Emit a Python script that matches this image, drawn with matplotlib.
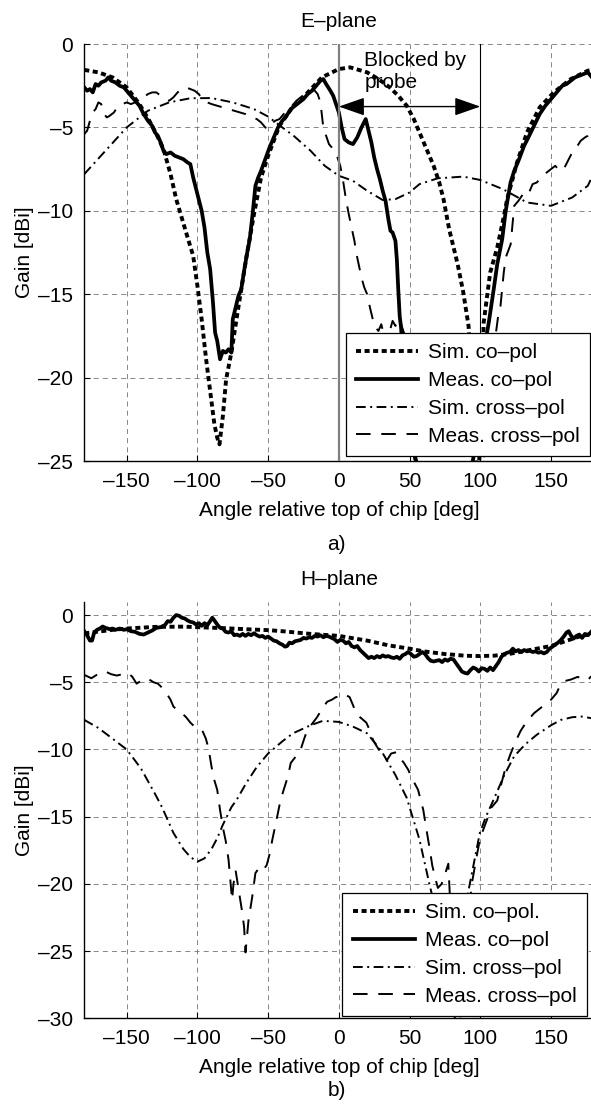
import matplotlib
matplotlib.use("Agg")
import matplotlib.pyplot as plt
import numpy as np

plt.rcParams['font.family'] = ['Liberation Sans', 'DejaVu Sans']

# ---------------- E-plane data ----------------
e_sim_co_ang = [-180, -170, -160, -150, -141, -134, -129, -124, -119, -115, -108, -103, -100, -97, -94, -91,
                -88, -86, -84.4, -82, -79.7, -76, -72, -69, -65, -60, -55, -50, -42, -32, -23, -12, 0, 8,
                20, 28, 36, 42, 48, 53, 57, 62, 67, 71, 74, 78, 84, 88, 91.7, 94, 96, 98, 100, 102.4,
                107, 112, 116, 119, 126, 133, 142, 152, 164, 176, 180]
e_sim_co_gain = [-1.55, -1.7, -2.0, -2.6, -3.6, -4.6, -5.4, -6.3, -7.8, -9.3, -11.3, -12.7, -14.5, -16.5, -18.8, -20.8,
                 -22.8, -23.6, -24.0, -22.3, -20.1, -18.5, -16.3, -14.7, -12.6, -10.2, -8.0, -6.7, -4.9, -3.7, -3.0, -2.0, -1.5, -1.4,
                 -1.7, -2.1, -2.6, -3.1, -3.7, -4.5, -5.3, -6.3, -7.3, -8.3, -9.3, -11.1, -13.2, -14.9, -16.9, -20.0, -24.0, -26.5, -24.0, -16.7,
                 -13.7, -12.2, -10.6, -9.3, -7.1, -5.3, -3.8, -2.9, -2.1, -1.6, -1.55]

e_meas_co_ang = [-180, -178, -176, -174, -172, -170, -168, -165, -163, -161, -158, -155, -152, -150, -147, -144,
                 -141, -138, -135, -132, -130, -128, -126, -124, -122, -119, -116, -113, -110, -107, -105, -103,
                 -100, -97, -95, -93, -91, -89, -87.5, -86, -84, -82, -80, -78, -76, -75, -73, -71, -69, -67,
                 -65, -63, -61, -59, -57, -55, -52, -49, -46, -43, -40, -37, -34, -31, -28, -25, -22, -19, -16,
                 -13, -11, -9, -6, -4, -2, 0, 2, 4, 7, 10, 13, 16, 19, 21, 23, 25, 27, 29, 31, 33, 35, 36.5,
                 38, 40, 41, 42, 43, 44, 45, 48, 52, 56, 62, 67, 72, 80, 90, 97, 101, 103, 106, 109.5, 112,
                 115.5, 118, 121.4, 124, 127, 131, 134, 138, 142, 146, 150, 152, 155, 158, 161, 164, 167, 170,
                 173, 176, 178, 180]
e_meas_co_gain = [-2.6, -2.8, -2.7, -2.9, -2.4, -2.5, -2.3, -2.2, -2.0, -2.2, -2.3, -2.5, -2.6, -2.8, -3.1, -3.4,
                  -3.7, -4.2, -4.6, -4.9, -5.3, -5.5, -5.9, -6.4, -6.6, -6.5, -6.7, -6.8, -6.9, -7.1, -7.2, -8.0,
                  -9.0, -10.0, -11.0, -12.5, -13.5, -15.5, -17.3, -17.8, -18.9, -18.4, -18.5, -18.3, -18.5, -16.5, -15.8, -15.1, -14.7, -13.6,
                  -12.6, -11.7, -10.2, -8.5, -8.0, -7.6, -6.9, -6.2, -5.6, -5.0, -4.6, -4.3, -3.9, -3.7, -3.5, -3.3, -3.0, -2.8, -2.5,
                  -2.2, -2.1, -2.4, -2.8, -3.1, -3.6, -4.1, -5.0, -5.7, -5.9, -6.0, -5.6, -5.0, -4.5, -5.2, -5.9, -6.8, -7.5, -8.1, -8.8, -9.4, -10.5, -11.2,
                  -11.3, -11.8, -12.9, -14.7, -16.3, -17.0, -18.5, -21.0, -24.0, -25.5, -26.5, -25.3, -26.5, -27.5, -27.0, -24.0, -20.0, -18.2, -16.7, -14.7, -13.2,
                  -11.7, -10.0, -8.3, -7.6, -7.0, -6.1, -5.6, -4.9, -4.2, -3.7, -3.3, -3.1, -2.8, -2.5, -2.4, -2.2, -2.0, -1.9,
                  -1.8, -1.7, -1.9, -2.1]

e_sim_cross_ang = [-180, -165, -150, -135, -120, -105, -90, -75, -60, -50, -40, -32, -20, -10, 0, 10,
                   20, 31, 40, 50, 57, 70, 88, 100, 116, 133, 150, 165, 176, 180]
e_sim_cross_gain = [-7.8, -6.4, -5.0, -4.0, -3.5, -3.25, -3.24, -3.5, -3.9, -4.35, -5.0, -5.5, -6.4, -7.3, -7.9, -8.2,
                    -8.8, -9.35, -9.3, -8.9, -8.4, -8.05, -7.95, -8.15, -8.7, -9.5, -9.7, -9.2, -8.5, -7.8]

e_meas_cross_ang = [-180, -178, -176, -174, -172, -170, -168, -166, -164, -162, -159, -156, -153, -150, -147, -144,
                    -141, -138, -135, -132, -129, -126, -123, -120, -117, -114, -111, -108, -105, -102, -99, -96,
                    -93, -90, -86, -82, -78, -74, -70, -66, -62, -58, -55, -52, -50, -48, -45, -42, -39, -36, -33,
                    -30, -27, -24, -21, -18, -15, -13, -11, -9, -7, -5, -3, -1, 1, 3, 5, 7, 9, 11, 12.5, 14, 16,
                    18, 20, 22, 24, 26, 28, 30, 32, 34, 36, 38, 40, 42, 44, 46, 48, 50, 52, 55, 60, 66, 72, 80,
                    88, 95, 100, 106, 110, 112.5, 114.3, 116.6, 118, 121.5, 124, 127, 131, 134, 137, 140, 143, 147,
                    150, 153, 156, 159, 162, 165, 168, 171, 174, 176, 178, 180]
e_meas_cross_gain = [-5.4, -5.2, -4.6, -4.1, -3.9, -3.5, -3.6, -4.2, -4.4, -4.3, -4.1, -3.7, -3.6, -3.5, -3.6, -3.5,
                     -3.3, -3.2, -3.0, -2.9, -2.9, -3.1, -3.3, -3.4, -3.2, -2.9, -2.7, -2.6, -2.7, -2.8, -3.0, -3.4,
                     -3.5, -3.6, -3.7, -3.8, -3.9, -4.0, -4.1, -4.2, -4.4, -4.5, -4.7, -5.0, -5.1, -4.8, -4.6, -4.5, -4.2, -3.9, -3.7,
                     -3.4, -3.2, -3.0, -2.8, -2.7, -3.0, -3.5, -5.0, -5.5, -6.0, -6.2, -6.5, -6.8, -7.3, -8.2, -9.3, -10.2, -11.0, -11.8, -12.6, -13.2, -14.0,
                     -14.6, -15.0, -15.8, -16.5, -17.0, -17.2, -16.8, -17.5, -18.1, -17.2, -16.6, -16.9, -16.4, -16.8, -17.3, -18.5, -21.0, -24.0, -26.0, -25.2, -27.0, -28.0, -29.0,
                     -27.5, -28.5, -27.0, -22.0, -18.0, -16.4, -15.7, -13.7, -12.8, -12.0, -9.7, -9.4, -8.9, -9.0, -8.4, -8.3, -8.0, -7.7,
                     -7.5, -7.3, -7.6, -7.5, -7.0, -6.5, -6.2, -5.8, -5.6, -5.5, -5.2, -5.4]

# ---------------- H-plane data ----------------
h_sim_co_ang = [-180, -160, -150, -130, -110, -100, -80, -60, -50, -40, -20, 0, 20, 35, 50, 60, 75, 90,
                100, 110, 120, 130, 140, 150, 160, 170, 180]
h_sim_co_gain = [-1.36, -1.1, -1.0, -0.88, -0.86, -0.9, -0.98, -1.08, -1.12, -1.2, -1.4, -1.55, -1.9, -2.25, -2.5, -2.7, -2.9, -3.03,
                 -3.05, -3.02, -2.9, -2.7, -2.5, -2.3, -1.95, -1.6, -1.36]

h_meas_co_ang = [-180, -178, -176, -174.5, -173, -171, -169, -167, -165, -162, -160, -158, -155, -152, -150, -147,
                 -144, -141, -138, -135, -132, -129, -126, -123, -121, -119, -117, -115, -113, -111, -109, -107,
                 -105, -103, -101, -99, -97, -95, -93, -91, -89.5, -88, -86, -84, -82, -80, -78, -76, -74, -72,
                 -70, -68, -66, -64, -62, -60, -58, -56, -54, -52, -50, -48, -46, -44, -42, -40, -38, -36.5, -35,
                 -33, -31, -29, -27, -25, -23, -21, -19, -17, -15, -13, -11, -9, -7, -5, -3, -1, 1, 3, 5, 7, 9,
                 11, 13, 15, 17, 19, 21, 23, 25, 27, 29, 31, 33, 35, 37, 39, 41, 43, 45, 47, 49, 51, 53, 55, 57,
                 59, 61, 63, 65, 67, 69, 71, 73, 75, 77, 79, 81, 83, 85, 87, 89, 91, 93, 95, 97, 99, 101, 103,
                 105, 107, 109, 111, 113, 115, 117, 119, 121, 123, 125, 127, 129, 131, 133, 135, 137, 139, 141,
                 143, 145, 147, 149, 151, 153, 155, 157, 159, 161, 162.5, 164, 166, 168, 170, 172, 174, 176, 178, 180]
h_meas_co_gain = [-1.2, -1.5, -1.9, -1.9, -1.3, -1.1, -1.0, -0.85, -0.95, -1.05, -1.0, -1.1, -1.0, -1.1, -1.05, -1.2,
                  -1.25, -1.4, -1.45, -1.3, -1.15, -0.95, -0.9, -0.75, -0.45, -0.5, -0.2, 0.0, -0.05, -0.2, -0.25, -0.4,
                  -0.5, -0.55, -0.7, -0.6, -0.8, -0.6, -0.75, -0.45, -0.2, -0.4, -0.7, -0.95, -1.0, -1.25, -1.3, -1.2, -1.5, -1.45,
                  -1.55, -1.4, -1.55, -1.4, -1.5, -1.35, -1.5, -1.6, -1.55, -1.7, -1.6, -1.75, -1.9, -1.95, -2.1, -2.2, -2.35, -2.3, -2.05,
                  -2.1, -1.95, -1.9, -1.85, -1.7, -1.75, -1.65, -1.7, -1.55, -1.6, -1.5, -1.65, -1.55, -1.6, -1.7, -1.8, -2.0, -1.85, -1.9, -2.1, -2.0, -2.3,
                  -2.4, -2.3, -2.6, -2.8, -3.0, -3.2, -3.1, -3.2, -3.05, -3.15, -3.0, -3.1, -3.05, -3.15, -3.2, -3.1, -3.25, -3.0, -2.9, -2.75, -2.9, -3.1, -3.05, -2.9,
                  -2.75, -2.9, -3.2, -3.4, -3.45, -3.4, -3.35, -3.5, -3.3, -3.4, -3.25, -3.3, -3.6, -3.9, -4.2, -4.3, -4.35, -4.1, -3.9, -4.0, -4.2, -3.95, -4.0,
                  -4.15, -3.9, -4.1, -3.8, -3.5, -3.1, -2.9, -2.8, -2.75, -2.5, -2.7, -2.6, -2.75, -2.6, -2.7, -2.65, -2.75, -2.7, -2.8,
                  -2.75, -2.85, -2.75, -2.5, -2.35, -2.2, -2.05, -1.85, -1.6, -1.3, -1.2, -1.5, -1.75, -1.55, -1.45, -1.7, -1.4, -1.5, -1.3, -1.05]

h_sim_cross_ang = [-180, -170, -160, -150, -140, -130, -125, -117, -110, -105, -100, -95, -90, -86, -82, -76,
                   -72, -65.5, -58, -50, -40, -32.5, -20, -11.3, 0, 10, 20, 30, 40, 48, 57, 64, 72, 79, 86,
                   92.6, 99.7, 104, 110, 117, 124, 132, 140, 150, 157, 165, 172, 180]
h_sim_cross_gain = [-7.8, -8.4, -9.2, -10.0, -11.4, -13.3, -14.3, -16.2, -17.4, -18.0, -18.35, -18.1, -17.4, -16.6, -15.6, -14.3,
                    -13.7, -12.5, -11.3, -10.3, -9.4, -8.8, -8.2, -7.87, -7.95, -8.3, -8.8, -10.1, -11.9, -13.6, -16.7, -20.0, -23.5, -25.5, -23.5,
                    -20.0, -16.2, -15.0, -13.6, -11.9, -10.5, -9.6, -8.9, -8.2, -7.8, -7.6, -7.55, -7.7]

h_meas_cross_ang = [-180, -177, -175, -172, -169, -165, -161, -157, -153, -149, -146, -143, -140, -137, -134, -131,
                    -128, -125, -122, -119, -117, -114, -111, -108, -105, -102, -99, -96.5, -94, -92, -90, -88, -86,
                    -84, -82, -80, -78, -76.5, -75.5, -74.5, -73, -71.5, -70, -68.5, -67, -66, -65, -63.7, -62.5,
                    -61.3, -60, -59, -57, -55.4, -53, -51, -49, -47, -44, -41.3, -39, -36, -34, -31, -27, -24.5,
                    -22.5, -19, -15.4, -12, -8.3, -5, -2, 1, 4, 7.6, 10, 12.3, 15, 19.4, 22, 24.2, 27, 31.3, 34, 37,
                    40.8, 43, 46, 49, 52, 56, 59.7, 62, 64.4, 66, 68, 70, 72.7, 75, 77.4, 79, 82, 85, 88, 91, 94,
                    97, 99.7, 102, 104.5, 108, 112, 115, 118, 121.5, 125, 128.6, 133, 138, 144, 150, 154, 157, 160,
                    164, 168.8, 172, 176, 178, 180]
h_meas_cross_gain = [-4.45, -4.6, -4.7, -4.5, -4.3, -4.2, -4.4, -4.5, -4.4, -4.3, -4.6, -5.1, -4.9, -4.7, -4.8, -5.0,
                     -5.1, -5.4, -5.8, -6.3, -6.8, -7.1, -7.3, -7.6, -8.0, -8.3, -8.4, -8.6, -9.2, -10.0, -11.3, -12.3, -13.0,
                     -14.5, -15.8, -16.8, -18.2, -20.0, -21.2, -20.0, -19.0, -20.0, -21.0, -22.0, -23.2, -25.1, -24.0, -22.5, -21.8,
                     -21.0, -20.0, -19.2, -18.9, -18.7, -18.9, -18.6, -17.8, -16.7, -15.2, -13.8, -13.0, -12.0, -11.0, -10.6, -10.0, -9.2,
                     -8.6, -8.1, -7.6, -7.0, -6.45, -6.3, -6.1, -6.1, -5.9, -6.1, -6.7, -7.3, -7.6, -8.0, -8.6, -9.3, -9.8, -10.5, -10.8, -10.3,
                     -10.2, -10.6, -11.0, -11.5, -12.2, -13.0, -14.5, -16.0, -17.5, -18.6, -19.5, -20.3, -20.0, -19.3, -18.5, -22.0, -30.0, -31.0, -28.0, -23.0, -20.0,
                     -18.2, -16.7, -16.0, -15.3, -14.3, -13.8, -12.5, -11.3, -10.3, -9.4, -8.6, -7.9, -7.3, -6.8, -6.3, -5.8, -5.1, -4.9,
                     -4.8, -4.6, -4.7, -4.85, -4.6, -4.5]

x_ticks = [-150, -100, -50, 0, 50, 100, 150]
e_yticks = [0, -5, -10, -15, -20, -25]
h_yticks = [0, -5, -10, -15, -20, -25, -30]
labels_e = ['Sim. co\u2013pol', 'Meas. co\u2013pol', 'Sim. cross\u2013pol', 'Meas. cross\u2013pol']
labels_h = ['Sim. co\u2013pol.', 'Meas. co\u2013pol', 'Sim. cross\u2013pol', 'Meas. cross\u2013pol']

FS = 15
fig = plt.figure(figsize=(5.91, 11.09), dpi=100)

st_simco = dict(color='k', lw=2.8, linestyle=(0, (1.3, 0.9)))
st_measco = dict(color='k', lw=2.7, linestyle='-')
st_simx = dict(color='k', lw=1.4, linestyle=(0, (5.0, 2.3, 1, 2.3)))
st_measx = dict(color='k', lw=1.4, linestyle=(0, (7.5, 5.5)))


def style_axes(ax, yt, ylim, title, legend_labels, anchor):
    ax.set_xlim(-180, 180)
    ax.set_ylim(*ylim)
    ax.set_xticks(x_ticks)
    ax.set_yticks(yt)
    ax.set_xticklabels([str(t).replace('-', '\u2013') for t in x_ticks])
    ax.set_yticklabels([str(t).replace('-', '\u2013') for t in yt])
    ax.grid(True, color='0.45', lw=0.6, linestyle=(0, (6, 5)))
    ax.set_axisbelow(True)
    ax.spines['top'].set_visible(False)
    ax.spines['right'].set_visible(False)
    ax.spines['left'].set_linewidth(1.0)
    ax.spines['bottom'].set_linewidth(1.0)
    ax.tick_params(direction='in', length=4, width=0.8, labelsize=FS, pad=8)
    ax.set_title(title, fontsize=FS, pad=12)
    ax.set_xlabel('Angle relative top of chip [deg]', fontsize=FS, labelpad=7)
    ax.set_ylabel('Gain [dBi]', fontsize=FS, labelpad=3)
    leg = ax.legend(legend_labels, loc='lower right', bbox_to_anchor=anchor, borderaxespad=0,
                    fontsize=FS, handlelength=3.0, handletextpad=0.45, labelspacing=0.42,
                    borderpad=0.5, fancybox=False, framealpha=1, edgecolor='k')
    leg.get_frame().set_linewidth(0.9)


ax1 = fig.add_axes([0.1426, 0.5843, 0.8615, 0.3760])
ax1.plot(e_sim_co_ang, e_sim_co_gain, **st_simco)
ax1.plot(e_meas_co_ang, e_meas_co_gain, **st_measco)
ax1.plot(e_sim_cross_ang, e_sim_cross_gain, **st_simx)
ax1.plot(e_meas_cross_ang, e_meas_cross_gain, **st_measx)
ax1.axvline(0, color='0.5', lw=1.6, zorder=3)
ax1.axvline(100, color='k', lw=0.8, zorder=3)
ax1.annotate('', xy=(0, -3.75), xytext=(100, -3.75),
             arrowprops=dict(arrowstyle='<|-|>,head_length=1.0,head_width=0.35', color='k', lw=1.0,
                             shrinkA=0, shrinkB=0, mutation_scale=16))
ax1.text(18, -0.4, 'Blocked by\nprobe', fontsize=FS, ha='left', va='top', linespacing=1.2)
style_axes(ax1, e_yticks, (-25, 0), 'E\u2013plane', labels_e, (0.9933, 0.012))

ax2 = fig.add_axes([0.1426, 0.0818, 0.8615, 0.3757])
ax2.plot(h_sim_co_ang, h_sim_co_gain, **st_simco)
ax2.plot(h_meas_co_ang, h_meas_co_gain, **st_measco)
ax2.plot(h_sim_cross_ang, h_sim_cross_gain, **st_simx)
ax2.plot(h_meas_cross_ang, h_meas_cross_gain, **st_measx)
style_axes(ax2, h_yticks, (-30, 1), 'H\u2013plane', labels_h, (0.9869, 0.0055))

fig.text(336 / 591, 1 - 545 / 1109, 'a)', fontsize=FS, ha='center', va='center')
fig.text(337 / 591, 1 - 1090 / 1109, 'b)', fontsize=FS, ha='center', va='center')

fig.savefig('out.png', dpi=100)
